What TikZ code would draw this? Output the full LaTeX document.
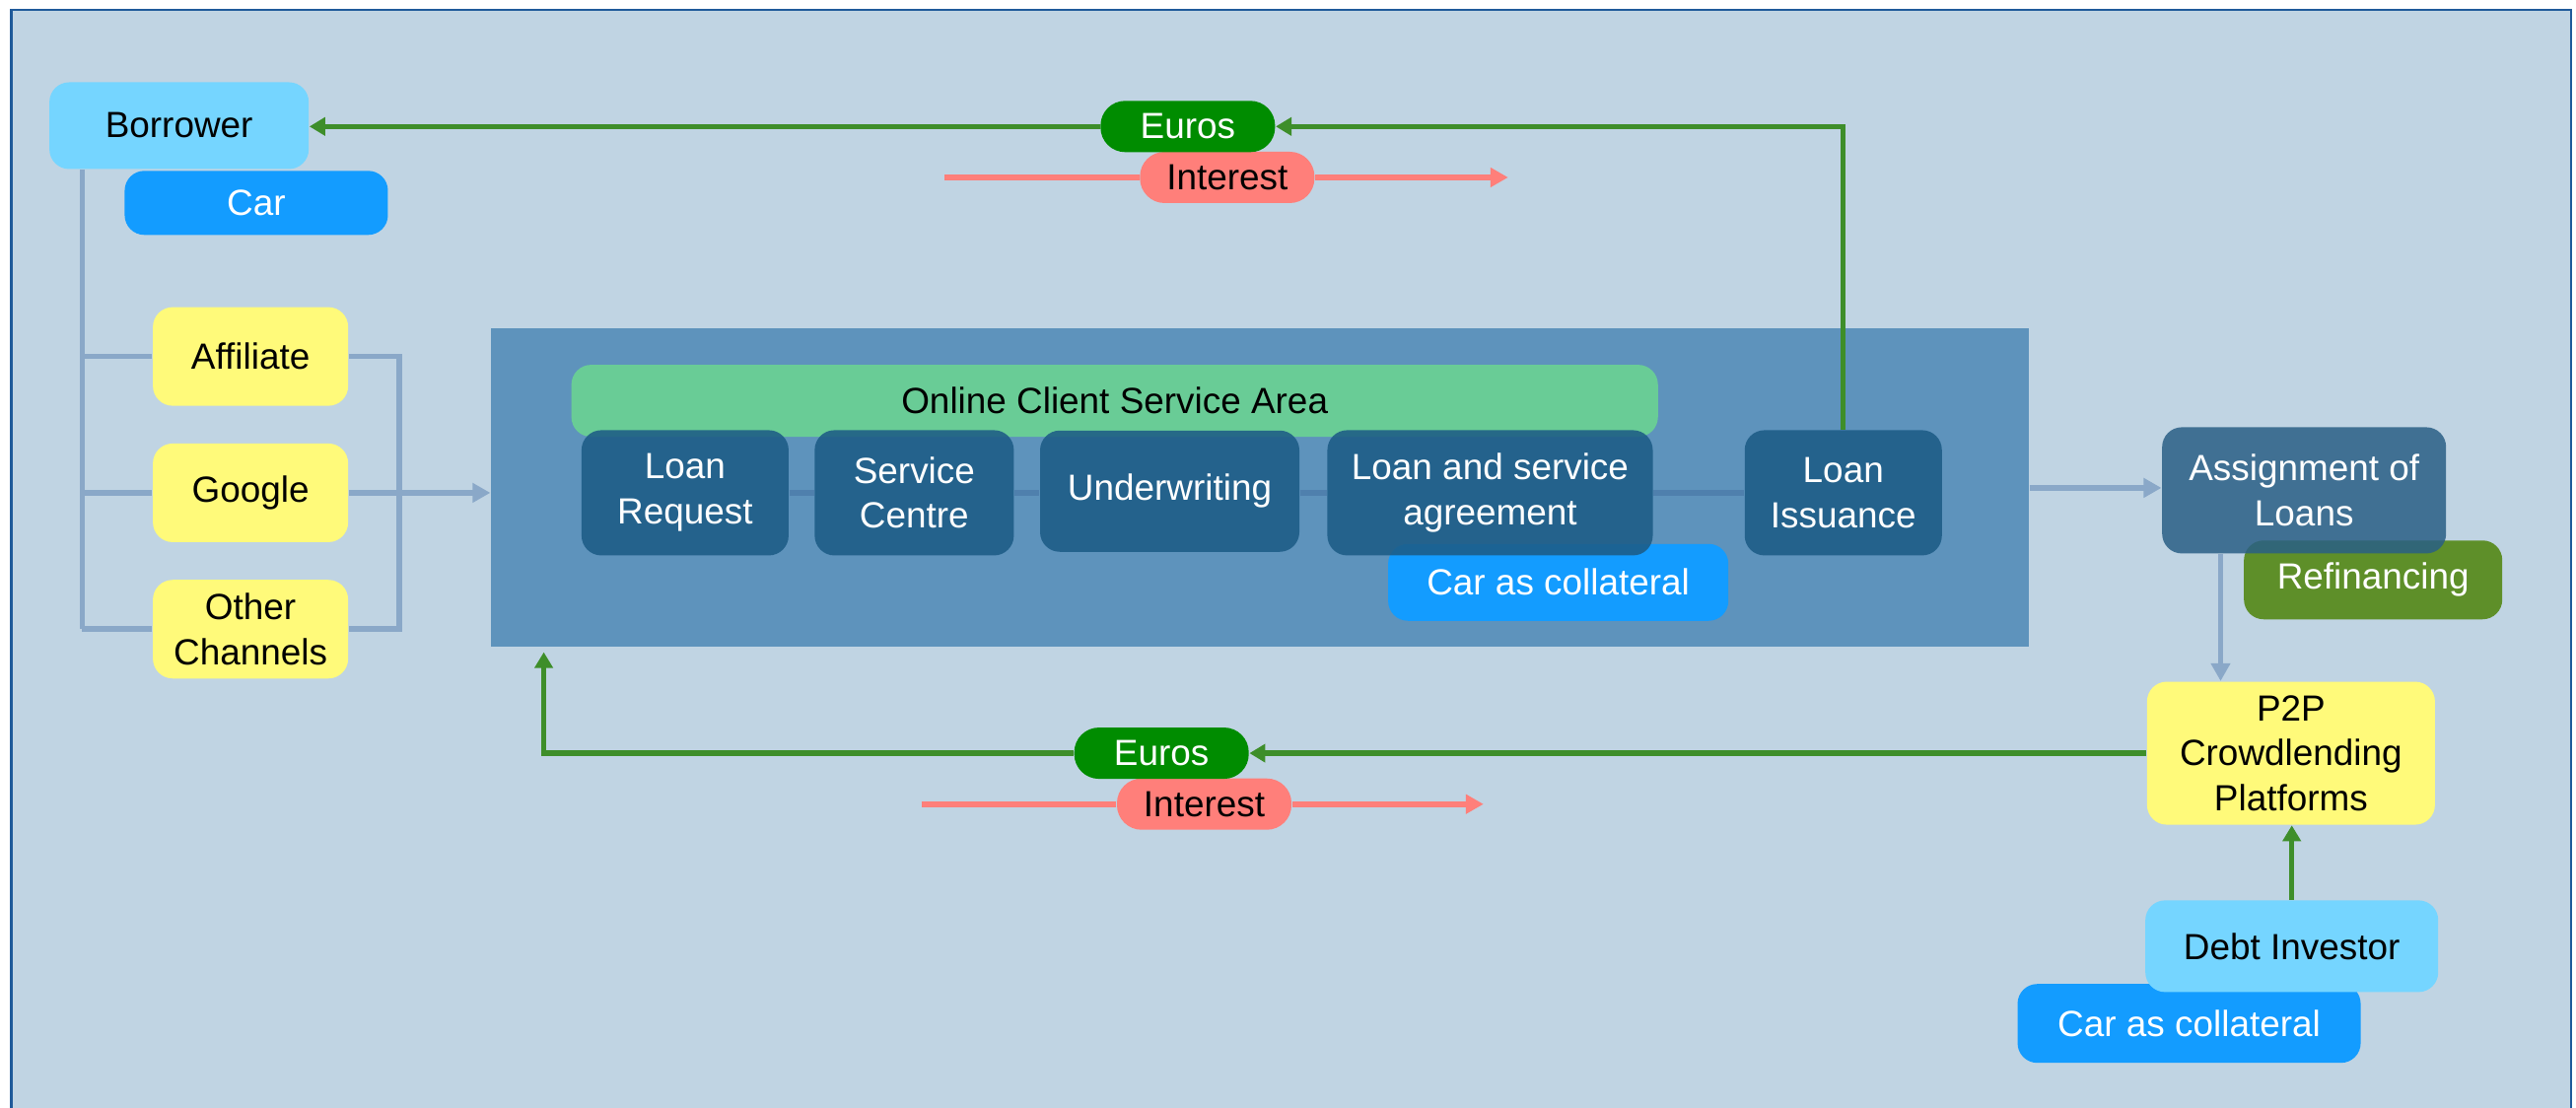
\documentclass[tikz,border=0pt]{standalone}
\usepackage{fontspec}
\setmainfont{Liberation Sans}
\usetikzlibrary{arrows.meta}
\definecolor{sky}{HTML}{C0D4E3}
\definecolor{frameblue}{HTML}{1F5A9A}
\definecolor{platblue}{HTML}{5E93BC}
\definecolor{procblue}{HTML}{1D5C86}
\definecolor{assignblue}{HTML}{2A5F85}
\definecolor{areagreen}{HTML}{69CC96}
\definecolor{refgreen}{HTML}{5E8F29}
\definecolor{chanyellow}{HTML}{FFFA7A}
\definecolor{lightblue}{HTML}{75D5FF}
\definecolor{carblue}{HTML}{139CFF}
\definecolor{eurogreen}{HTML}{008C00}
\definecolor{cashgreen}{HTML}{3E8E2A}
\definecolor{salmon}{HTML}{FF7F7A}
\definecolor{feedgrey}{HTML}{8AA8C8}
\definecolor{linkblue}{HTML}{4F80AD}

\begin{document}
\begin{tikzpicture}[x=0.016667cm,y=-0.016667cm,font=\fontsize{10.5}{13}\selectfont,
  box/.style={rounded corners=0.2cm,align=center,inner sep=0pt},
  party/.style={box,fill=lightblue,minimum height=0.9cm},
  channel/.style={box,fill=chanyellow,minimum width=1.98cm,minimum height=1cm},
  proc/.style={box,fill=procblue,fill opacity=0.88,text opacity=1,text=white,minimum height=1.27cm},
  collat/.style={box,fill=carblue,text=white,minimum height=0.8cm},
  money/.style={box,rounded corners=0.25cm,minimum width=1.77cm,minimum height=0.52cm},
  feed/.style={draw=feedgrey,line width=1.6pt},
  cash/.style={draw=cashgreen,line width=1.5pt},
  link/.style={draw=linkblue,line width=1.5pt},
  owed/.style={draw=salmon,line width=1.6pt},
  tip/.style={-{Triangle[length=0.18cm,width=0.19cm]}},
  ctip/.style={-{Triangle[length=0.16cm,width=0.18cm]}}]
\useasboundingbox (0,0) rectangle (1568,674.4);
\clip (0,0) rectangle (1568,674.4);
\draw[frameblue,fill=sky,line width=0.8pt] (7,6) rectangle (1565,700); % frame
% platform
\node[fill=platblue,minimum width=15.6cm,minimum height=3.23cm,inner sep=0pt] (platform) at (767,297) {};
\node[box,fill=areagreen,minimum width=11.02cm,minimum height=0.73cm] (area) at (678.5,244) {Online Client Service Area};
\node[collat,minimum width=3.45cm,minimum height=0.78cm] (carmid) at (948.5,354.5) {Car as collateral};
\node[proc,minimum width=2.10cm] (request) at (417,300) {Loan\\Request};
\node[proc,minimum width=2.02cm] (centre) at (556.5,300) {Service\\Centre};
\node[proc,minimum width=2.63cm,minimum height=1.23cm] (underwrite) at (712,299) {Underwriting};
\node[proc,minimum width=3.30cm] (agreement) at (907,300) {Loan and service\\agreement};
\node[proc,minimum width=2.00cm] (issuance) at (1122,300) {Loan\\Issuance};
\draw[link] (request.east) -- (request.east -| centre.west);
\draw[link] (centre.east) -- (centre.east -| underwrite.west);
\draw[link] (agreement.west -| underwrite.east) -- (agreement.west);
\draw[link] (agreement.east) -- (issuance.west);
% borrower side
\node[collat,minimum width=2.67cm,minimum height=0.65cm] (car) at (156,123.5) {Car};
\node[party,minimum width=2.63cm,minimum height=0.88cm] (borrower) at (109,76.5) {Borrower};
\node[channel] (affiliate) at (152.5,217) {Affiliate};
\node[channel] (google) at (152.5,300) {Google};
\node[channel] (other) at (152.5,383) {Other\\Channels};
\coordinate (trunk) at (50,383);
\coordinate (merge) at (243,300);
\draw[feed] (borrower.south -| trunk) -- (trunk); % trunk
\draw[feed] (affiliate.west) -- (affiliate.west -| trunk);
\draw[feed] (google.west) -- (google.west -| trunk);
\draw[feed] (other.west) -- (other.west -| trunk);
\draw[feed] (affiliate.east) -| (merge |- other.east) -- (other.east);
\draw[feed,tip] (google.east) -- (google.east -| platform.west);
% investor side
\node[box,fill=refgreen,text=white,minimum width=2.62cm,minimum height=0.8cm] (refinance) at (1444.5,353) {Refinancing};
\node[box,fill=assignblue,fill opacity=0.85,text opacity=1,text=white,minimum width=2.88cm,minimum height=1.28cm] (assign) at (1402.5,298.5) {Assignment of\\Loans};
\node[box,fill=chanyellow,minimum width=2.92cm,minimum height=1.45cm] (p2p) at (1394.5,458.5) {P2P\\Crowdlending\\Platforms};
\node[collat,minimum width=3.48cm] (carbot) at (1332.5,623) {Car as collateral};
\node[party,minimum width=2.97cm,minimum height=0.93cm] (investor) at (1395,576) {Debt Investor};
\draw[feed,tip] (platform.east) -- (platform.east -| assign.west);
\draw[feed,tip] ([xshift=0.6cm]assign.south west) -- ([xshift=0.6cm]assign.south west |- p2p.north);
\draw[cash,ctip] (investor.north) -- (investor.north |- p2p.south);
% money flows
\coordinate (intA) at (575,108);
\coordinate (intB) at (918,108);
\coordinate (intC) at (561,489.5);
\coordinate (intD) at (903,489.5);
\coordinate (payin) at (331,397);
\node[money,fill=salmon] (interestT) at (747,108) {Interest};
\node[money,fill=eurogreen,text=white] (eurosT) at (723,77) {Euros};
\node[money,fill=salmon] (interestB) at (733,489.5) {Interest};
\node[money,fill=eurogreen,text=white] (eurosB) at (707,458.5) {Euros};
\draw[cash,ctip] (issuance.north) |- (eurosT.east);
\draw[cash,ctip] (eurosT.west) -- (eurosT.west -| borrower.east);
\draw[cash,ctip] (p2p.west) -- (eurosB.east);
\draw[cash,ctip] (eurosB.west) -| (payin);
\draw[owed] (intA) -- (interestT.west);
\draw[owed,tip] (interestT.east) -- (intB);
\draw[owed] (intC) -- (interestB.west);
\draw[owed,tip] (interestB.east) -- (intD);
\end{tikzpicture}
\end{document}
